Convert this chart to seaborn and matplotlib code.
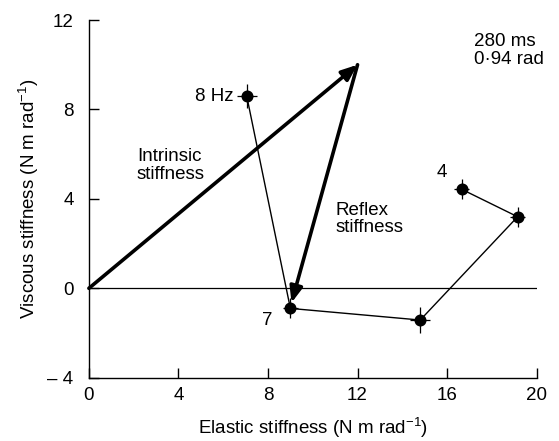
import matplotlib
matplotlib.use("Agg")
import matplotlib.pyplot as plt
import seaborn as sns
import pandas as pd

# Frequency response points (elastic vs viscous stiffness)
freq_labels = ["8 Hz", "7", "6", "5", "4"]
elastic = [7.05, 9.0, 14.8, 19.15, 16.65]
viscous = [8.6, -0.9, -1.42, 3.2, 4.43]
elastic_err = [0.45, 0.35, 0.45, 0.35, 0.35]
viscous_err = [0.55, 0.45, 0.6, 0.45, 0.45]

# Stiffness vectors
intrinsic_start = (0.0, 0.0)
intrinsic_end = (12.0, 10.0)
reflex_end = (9.05, -0.65)

x_ticks = [0, 4, 8, 12, 16, 20]
y_ticks = [-4, 0, 4, 8, 12]

sns.set_style("ticks")
plt.rcParams["font.family"] = ["Liberation Sans", "DejaVu Sans"]
plt.rcParams["mathtext.fontset"] = "custom"
plt.rcParams["mathtext.rm"] = "Liberation Sans"
plt.rcParams["mathtext.it"] = "Liberation Sans"
plt.rcParams["text.color"] = "black"
plt.rcParams["axes.labelcolor"] = "black"

fig = plt.figure(figsize=(5.59, 4.41), dpi=100)
ax = fig.add_axes([0.159, 0.1435, 0.801, 0.8111])

df = pd.DataFrame({"elastic": elastic, "viscous": viscous, "freq": freq_labels})

# zero reference line
ax.axhline(0, xmin=0, xmax=1, color="black", lw=0.9, zorder=1)

# connecting line and markers
sns.lineplot(data=df, x="elastic", y="viscous", sort=False, ax=ax,
             color="black", lw=1.0, zorder=2)
ax.errorbar(df["elastic"], df["viscous"], xerr=elastic_err, yerr=viscous_err,
            fmt="none", ecolor="black", elinewidth=0.9, capsize=0, zorder=3)
sns.scatterplot(data=df, x="elastic", y="viscous", ax=ax, color="black",
                s=75, edgecolor="black", linewidth=0, zorder=4)

# arrows
arrow_kw = dict(arrowstyle="-|>,head_length=0.95,head_width=0.38",
                color="black", lw=2.6, shrinkA=0, shrinkB=0)
ax.annotate("", xy=intrinsic_end, xytext=intrinsic_start, arrowprops=arrow_kw, zorder=5)
ax.annotate("", xy=reflex_end, xytext=intrinsic_end, arrowprops=arrow_kw, zorder=5)

fs = 13.5
ax.text(6.45, 8.6, freq_labels[0], ha="right", va="center", fontsize=fs)
ax.text(7.96, -1.42, freq_labels[1], ha="center", va="center", fontsize=fs)
ax.text(15.75, 5.2, freq_labels[4], ha="center", va="center", fontsize=fs)
ax.text(2.15, 5.5, "Intrinsic\nstiffness", ha="left", va="center", fontsize=fs,
        linespacing=1.05)
ax.text(11.0, 3.1, "Reflex\nstiffness", ha="left", va="center", fontsize=fs,
        linespacing=1.05)
ax.text(17.2, 10.65, "280 ms\n0\u00b794 rad", ha="left", va="center", fontsize=fs,
        linespacing=1.05)

ax.set_xlim(0, 20)
ax.set_ylim(-4, 12)
ax.set_xticks(x_ticks)
ax.set_yticks(y_ticks)
ax.set_yticklabels(["\u2013 4" if v == -4 else str(v) for v in y_ticks])
ax.tick_params(direction="in", length=7.5, width=1, labelsize=fs, colors="black")
ax.tick_params(axis="y", pad=11)
ax.tick_params(axis="x", pad=7)
for side in ["left", "bottom"]:
    ax.spines[side].set_linewidth(1.0)
    ax.spines[side].set_color("black")
sns.despine(ax=ax)

ax.set_xlabel("Elastic stiffness (N m rad$^{-1}$)", fontsize=fs, labelpad=8)
ax.set_ylabel("Viscous stiffness (N m rad$^{-1}$)", fontsize=fs, labelpad=5)

fig.savefig("out.png", dpi=100)
